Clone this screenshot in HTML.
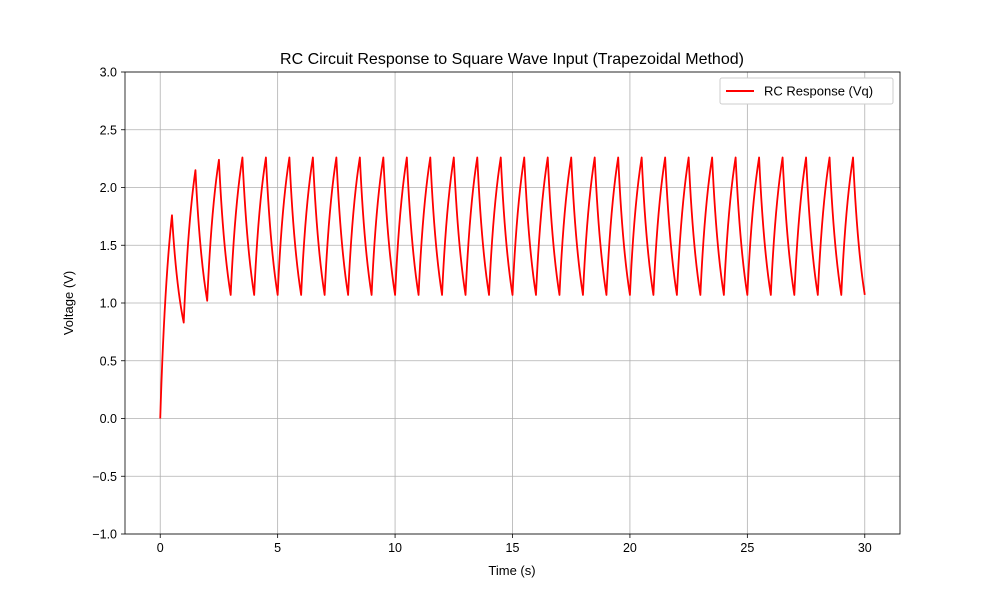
<!DOCTYPE html>
<html><head><meta charset="utf-8"><style>
body{margin:0;background:#fff;}
svg{display:block;font-family:"Liberation Sans","DejaVu Sans",sans-serif;}
</style></head><body>
<svg id="chart" width="1000" height="600">
<rect width="1000" height="600" fill="#fff"/>
<text x="512" y="64" text-anchor="middle" font-size="16">RC Circuit Response to Square Wave Input (Trapezoidal Method)</text>
<g id="grid"></g><g id="series"></g><g id="axes"></g>
<text x="512" y="575" text-anchor="middle" font-size="13">Time (s)</text>
<text transform="translate(73,303) rotate(-90)" text-anchor="middle" font-size="13">Voltage (V)</text>
<g>
<rect x="720" y="78" width="173" height="26" fill="#fff" stroke="#ccc" rx="2"/>
<line x1="726" y1="91" x2="754" y2="91" stroke="red" stroke-width="2"/>
<text x="764" y="95.5" font-size="13">RC Response (Vq)</text>
</g>
</svg>
<script>
const xTicks=[0,5,10,15,20,25,30];
const yTicks=[-1.0,-0.5,0.0,0.5,1.0,1.5,2.0,2.5,3.0];
const times=[0,0.5,1,1.5,2,2.5,3,3.5,4,4.5,5,5.5,6,6.5,7,7.5,8,8.5,9,9.5,10,10.5,11,11.5,12,12.5,13,13.5,14,14.5,15,15.5,16,16.5,17,17.5,18,18.5,19,19.5,20,20.5,21,21.5,22,22.5,23,23.5,24,24.5,25,25.5,26,26.5,27,27.5,28,28.5,29,29.5,30];
const voltages=[0,1.76,0.83,2.15,1.02,2.24,1.07,2.26,1.07,2.26,1.07,2.26,1.07,2.26,1.07,2.26,1.07,2.26,1.07,2.26,1.07,2.26,1.07,2.26,1.07,2.26,1.07,2.26,1.07,2.26,1.07,2.26,1.07,2.26,1.07,2.26,1.07,2.26,1.07,2.26,1.07,2.26,1.07,2.26,1.07,2.26,1.07,2.26,1.07,2.26,1.07,2.26,1.07,2.26,1.07,2.26,1.07,2.26,1.07,2.26,1.07];
const L=125,R=900,T=72,B=534,xmin=-1.5,xmax=31.5,ymin=-1,ymax=3;
const X=v=>L+(v-xmin)/(xmax-xmin)*(R-L);
const Y=v=>B-(v-ymin)/(ymax-ymin)*(B-T);
const NS="http://www.w3.org/2000/svg";
function mk(tag,attrs,parent){const e=document.createElementNS(NS,tag);for(const k in attrs)e.setAttribute(k,attrs[k]);parent.appendChild(e);return e;}
const grid=document.getElementById('grid'),axes=document.getElementById('axes'),series=document.getElementById('series');
xTicks.forEach(t=>{
 const g=mk('line',{x1:X(t),x2:X(t),y1:T,y2:B,stroke:'#b0b0b0','stroke-width':0.8},grid);
 
 
 mk('line',{x1:X(t),x2:X(t),y1:B,y2:B+4,stroke:'#000','stroke-width':0.8},axes);
 const tx=mk('text',{x:X(t),y:B+18,'text-anchor':'middle','font-size':12.5},axes);
 tx.textContent=t;
 
 
});
yTicks.forEach(t=>{
 const g=mk('line',{x1:L,x2:R,y1:Y(t),y2:Y(t),stroke:'#b0b0b0','stroke-width':0.8},grid);
 
 
 mk('line',{x1:L-4,x2:L,y1:Y(t),y2:Y(t),stroke:'#000','stroke-width':0.8},axes);
 const tx=mk('text',{x:L-8,y:Y(t)+4.5,'text-anchor':'end','font-size':12.5},axes);
 tx.textContent=(t<0?'\u2212':'')+Math.abs(t).toFixed(1);
 
 
});
const fr=mk('rect',{x:L,y:T,width:R-L,height:B-T,fill:'none',stroke:'#000','stroke-width':0.8},axes);


let d='';
times.forEach((t,i)=>{
 if(!i){d+='M'+X(t).toFixed(2)+','+Y(voltages[i]).toFixed(2);return;}
 const x0=X(times[i-1]),y0=Y(voltages[i-1]),x1=X(t),y1=Y(voltages[i]);
 const cx=x0+(x1-x0)*0.35,cy=y0+(y1-y0)*0.65;
 d+='Q'+cx.toFixed(2)+','+cy.toFixed(2)+' '+x1.toFixed(2)+','+y1.toFixed(2);
});
const p=mk('path',{d:d,fill:'none',stroke:'red','stroke-width':1.8,'stroke-linejoin':'round'},series);


</script>
</body></html>
